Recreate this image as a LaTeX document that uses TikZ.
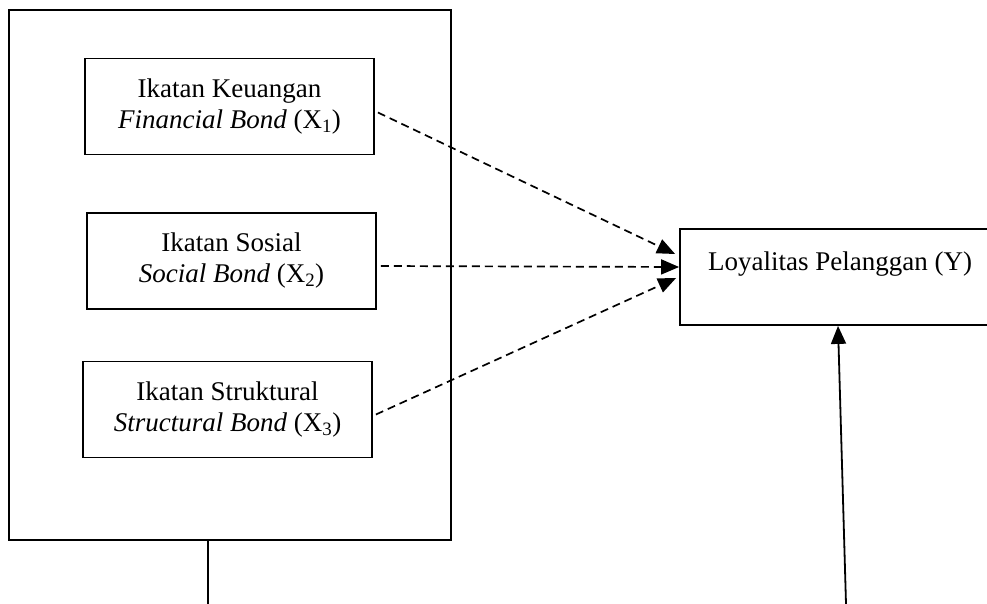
\documentclass[tikz,border=0pt]{standalone}
\usepackage{fontspec}
\setmainfont{Liberation Serif}
\usetikzlibrary{arrows.meta,positioning}

\tikzset{
  bondbox/.style = {draw, line width=1.8pt, minimum width=289pt, minimum height=96pt,
    align=center, inner sep=0pt},
  bondarrow/.style = {line width=1.7pt, dash pattern=on 8pt off 5pt,
    -{Triangle[length=18pt,width=15pt]}},
  plainline/.style = {line width=1.8pt}
}

\begin{document}
\begin{tikzpicture}[x=1pt, y={(0,-1pt)}, font=\fontsize{27}{31}\selectfont]
		\useasboundingbox (0,0) rectangle (987,604);
		
		% outer frame with the three bonds
		\node[draw, line width=1.8pt, minimum width=442pt, minimum height=530pt, inner sep=0pt] (frame) at (230,275) {};
		\node[bondbox] (fin) at (229.5,106.5) {Ikatan Keuangan\\\textit{Financial Bond} (X\textsubscript{1})};
		\node[bondbox] (soc) at (231.5,261) {Ikatan Sosial\\\textit{Social Bond} (X\textsubscript{2})};
		\node[bondbox] (str) at (227.5,409.5) {Ikatan Struktural\\\textit{Structural Bond} (X\textsubscript{3})};
		
		% dependent variable
		\node[bondbox, minimum width=320pt] (loyal) at (840,277) {Loyalitas Pelanggan (Y)\\~};
		
		\draw[bondarrow] ([shift={(3,6)}]fin.east) -- ([shift={(-4,-23)}]loyal.west);
		\draw[bondarrow] ([shift={(4,5)}]soc.east) -- ([shift={(0,-10)}]loyal.west);
		\draw[bondarrow] ([shift={(3,5)}]str.east) -- ([shift={(-3,1)}]loyal.west);
		
		% lines leaving the picture at the bottom
		\coordinate (base1) at (208,604);
		\coordinate (base2) at (846,604);
		\draw[plainline] (frame.south -| base1) -- (base1);
		\draw[plainline, -{Triangle[length=18pt,width=15pt]}] (base2) -- ([xshift=-2pt]loyal.south);
		\end{tikzpicture}
\end{document}
